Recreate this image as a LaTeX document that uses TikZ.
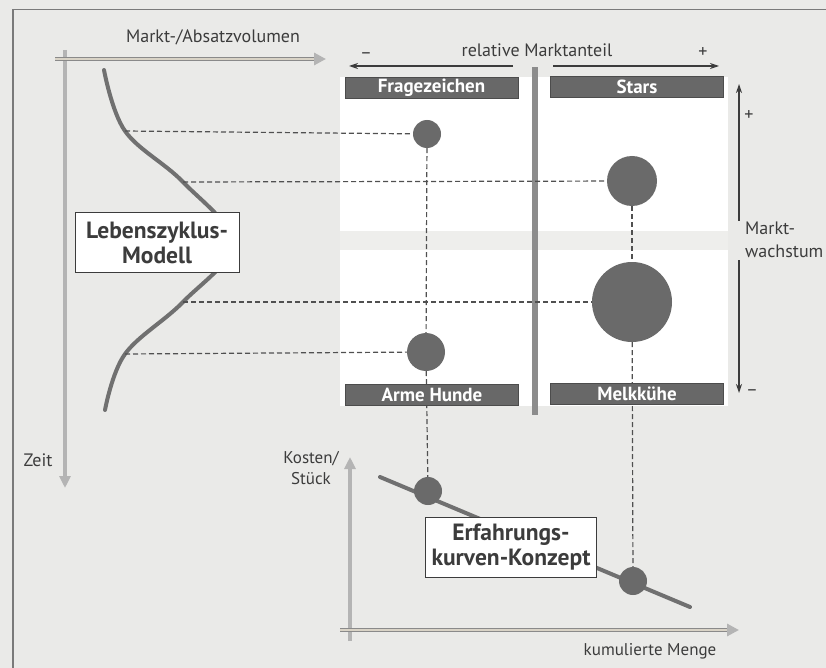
\documentclass[tikz,border=0pt]{standalone}
\usepackage{fontspec}
\setmainfont{PT Sans}
\usetikzlibrary{arrows.meta}
\definecolor{bg}{HTML}{EAEAE8}
\definecolor{ink}{HTML}{3C3C3C}
\definecolor{dotgray}{HTML}{6A6A6A}
\definecolor{bargray}{HTML}{686868}
\definecolor{curvegray}{HTML}{707070}
\definecolor{axlight}{HTML}{B4B4B4}
\definecolor{axdark}{HTML}{8A8A8A}
\definecolor{axinner}{HTML}{D9D3C6}
\definecolor{divgray}{HTML}{8C8C8C}
\definecolor{bandgray}{HTML}{EEEEEC}
\definecolor{framegray}{HTML}{7A7A7A}
\begin{document}
\begin{tikzpicture}[x=1pt,y=-1pt,
  lbl/.style={text=ink, font=\fontsize{18}{23}\selectfont, inner sep=0pt},
  smalllbl/.style={text=ink, font=\fontsize{17}{21}\selectfont, inner sep=0pt},
  bubble/.style={circle, fill=dotgray, draw=none, inner sep=0pt, minimum size=#1},
  barbox/.style={fill=bargray, draw=black!70, line width=0.6pt, text=white,
     font=\fontsize{19}{20}\selectfont\bfseries, minimum height=21pt, minimum width=173pt, inner sep=0pt},
  conceptbox/.style={fill=white, draw=ink, line width=1pt, text=ink, align=center,
     font=\fontsize{23.5}{25}\selectfont\bfseries, inner sep=2pt},
  dashline/.style={draw=ink!90, line width=1.2pt, dash pattern=on 5pt off 3pt},
  curveline/.style={draw=curvegray, line width=4pt, line cap=round},
  lightaxis/.style={draw=axlight, line width=4pt},
  dblouter/.style={draw=axdark, line width=4.5pt},
  dblinner/.style={draw=axinner, line width=1.6pt},
  thinarrow/.style={draw=ink, line width=1.2pt, -{Stealth[length=9pt,width=6pt]}}
]
\useasboundingbox (0,0) rectangle (826,668);
\fill[bg] (0,0) rectangle (826,668);
% frame
\draw[framegray, line width=1.5pt] (13,668) -- (13,9.5) -- (826,9.5);

% matrix white area and band
\fill[white] (340,77) rectangle (728,406);
\fill[bandgray] (340,231) rectangle (728,250);
\fill[divgray] (532,67) rectangle (538,415);

% ---------- axes ----------
\coordinate (zt) at (65,50);
\coordinate (zb) at (65,488);
\draw[lightaxis, -{Triangle[length=12pt,width=11pt]}] (zt) -- (zb);

\coordinate (va0) at (55,59);
\coordinate (va1) at (326,59);
\draw[dblouter, -{Triangle[length=12pt,width=12pt,color=axlight]}] (va0) -- (va1);
\draw[dblinner, shorten >=12pt] (va0) -- (va1);

\coordinate (kt0) at (350,641);
\coordinate (kt1) at (350,457);
\draw[lightaxis, -{Triangle[length=12pt,width=11pt]}] (kt0) -- (kt1);

\coordinate (km0) at (340,630);
\coordinate (km1) at (739,630);
\draw[dblouter, -{Triangle[length=12pt,width=12pt,color=axlight]}] (km0) -- (km1);
\draw[dblinner, shorten >=12pt] (km0) -- (km1);

% relative Marktanteil arrows
\coordinate (ra0) at (513,66);
\coordinate (ra1) at (349,66);
\coordinate (rb0) at (553,66);
\coordinate (rb1) at (719,66);
\draw[thinarrow] (ra0) -- (ra1);
\draw[thinarrow] (rb0) -- (rb1);

% Marktwachstum arrows
\coordinate (mu0) at (739,221);
\coordinate (mu1) at (739,84);
\coordinate (md0) at (739,260);
\coordinate (md1) at (739,393);
\draw[thinarrow] (mu0) -- (mu1);
\draw[thinarrow] (md0) -- (md1);

% ---------- life cycle curve ----------
\coordinate (c1) at (125,131);
\coordinate (c2) at (183,182);
\coordinate (c3) at (183,302);
\coordinate (c4) at (125,354);
\draw[curveline] plot[smooth, tension=0.6] coordinates {(104,70) (125,131) (183,182) (232,243) (183,302) (125,354) (105,410)};

% ---------- experience curve ----------
\coordinate (e0) at (380,477);
\coordinate (e1) at (690,607);
\draw[curveline] (e0) -- (e1);

% ---------- bubbles ----------
\node[bubble=28pt] (fz) at (427,134) {};
\node[bubble=50pt] (st) at (632,181) {};
\node[bubble=80pt] (mk) at (632,302) {};
\node[bubble=38pt] (ah) at (426,352) {};
\node[bubble=28pt] (ek1) at (428,491) {};
\node[bubble=28pt] (ek2) at (633,581) {};

% ---------- dashed connectors ----------
\draw[dashline] (c1) -- (fz);
\draw[dashline] (c2) -- (st);
\draw[dashline] (c3) -- (mk);
\draw[dashline] (c4) -- (ah);
\draw[dashline] (fz) -- (ah);
\draw[dashline] (ah) -- (ek1);
\draw[dashline] (st) -- (mk);
\draw[dashline] (mk) -- (ek2);

% ---------- bars ----------
\node[barbox] (bfz) at (431.5,88) {Fragezeichen};
\node[barbox] (bst) at (637,87) {Stars};
\node[barbox] (bah) at (432,395) {Arme Hunde};
\node[barbox] (bmk) at (637,394) {Melkkühe};

% ---------- concept boxes ----------
\node[conceptbox, minimum width=164pt, minimum height=59pt] (lz) at (157,242.5) {Lebenszyklus-\\Modell};
\node[conceptbox, minimum width=171pt, minimum height=60pt] (ekk) at (511,547) {Erfahrungs-\\kurven-Konzept};

% ---------- labels ----------
\node[lbl] (tv) at (213,37) {Markt-/Absatzvolumen};
\node[lbl] (zeit) at (38,460) {Zeit};
\node[lbl] (rm) at (537,50) {relative Marktanteil};
\node[lbl] (plus1) at (703,53) {+};
\node[lbl] (minus1) at (366,56) {–};
\node[lbl] (plus2) at (749,116) {+};
\node[lbl, align=left, anchor=west] (mw) at (745,240) {Markt-\\wachstum};
\node[lbl] (minus2) at (752,393) {–};
\node[smalllbl, align=center] (ks) at (311,468) {Kosten/\\Stück};
\node[smalllbl] (kmenge) at (650,651) {kumulierte Menge};
\end{tikzpicture}
\end{document}
